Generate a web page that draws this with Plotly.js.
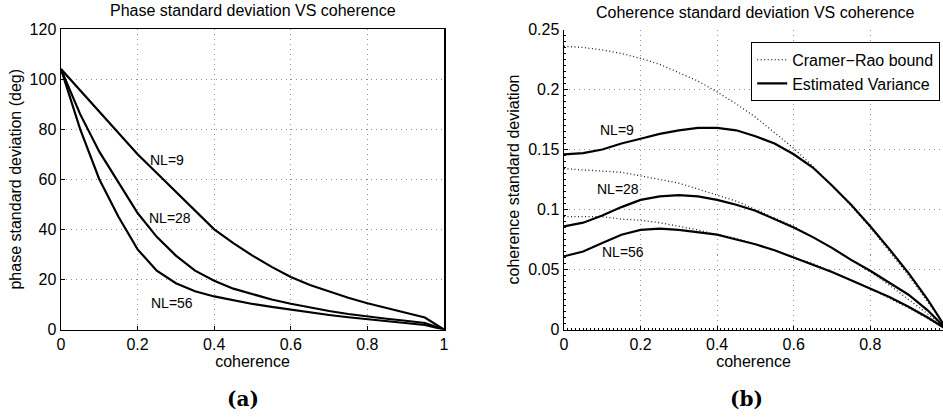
<!DOCTYPE html>
<html>
<head>
<meta charset="utf-8">
<script src="https://cdn.plot.ly/plotly-3.0.1.min.js"></script>
<style>html,body{margin:0;padding:0;background:#fff;}#chart{width:943px;height:417px;}</style>
</head>
<body>
<div id="chart"></div>
<script>
// ---- data ----
const coherence = [0,0.05,0.1,0.15,0.2,0.25,0.3,0.35,0.4,0.45,0.5,0.55,0.6,0.65,0.7,0.75,0.8,0.85,0.9,0.95,1];

// (a) phase standard deviation (deg)
const phaseNL9  = [104,95.5,87,78.5,70,62.5,55,47.5,40,34.5,29.5,25,21,17.8,15.2,12.7,10.5,8.6,6.6,4.8,0];
const phaseNL28 = [104,86,71,58.5,46.5,37,29.5,23.5,19.5,16.3,14,12,10.3,8.8,7.4,6.2,5.2,4.3,3.5,2.6,0];
const phaseNL56 = [104,80,60,45,32,23.5,18.5,15.3,13.2,11.6,10.2,9,7.9,6.9,5.8,4.9,4.1,3.3,2.6,1.8,0];

// (b) coherence standard deviation
const crNL9  = [0.236,0.235,0.233,0.230,0.226,0.221,0.214,0.207,0.198,0.188,0.177,0.164,0.151,0.136,0.120,0.103,0.085,0.065,0.045,0.023,0];
const crNL28 = [0.134,0.133,0.132,0.131,0.128,0.125,0.122,0.117,0.112,0.107,0.100,0.093,0.086,0.077,0.068,0.058,0.048,0.037,0.025,0.013,0];
const crNL56 = [0.094,0.094,0.094,0.092,0.091,0.089,0.086,0.083,0.079,0.076,0.071,0.066,0.060,0.055,0.048,0.041,0.034,0.026,0.018,0.009,0];
const estNL9  = [0.146,0.147,0.150,0.155,0.159,0.163,0.166,0.168,0.168,0.166,0.161,0.155,0.146,0.135,0.120,0.104,0.086,0.067,0.047,0.025,0];
const estNL28 = [0.086,0.089,0.095,0.102,0.108,0.111,0.112,0.111,0.108,0.104,0.099,0.092,0.085,0.077,0.068,0.058,0.049,0.039,0.029,0.016,0];
const estNL56 = [0.061,0.065,0.072,0.079,0.083,0.084,0.083,0.081,0.079,0.075,0.071,0.066,0.060,0.054,0.048,0.041,0.034,0.027,0.019,0.010,0];

const curveLabels = ['NL=9','NL=28','NL=56'];
const legendNames = ['Cramer\u2212Rao bound','Estimated Variance'];
const titleA = 'Phase standard deviation VS coherence';
const titleB = 'Coherence standard deviation VS coherence';

// ---- styling ----
const FONT = "'Liberation Sans', Arial, Helvetica, sans-serif";
const solid = {color:'#000', width:2.2};
const dotted = {color:'#222', width:1.3, dash:'1px,2.5px'};

const traces = [];
[phaseNL9, phaseNL28, phaseNL56].forEach(v => traces.push({
  x: coherence, y: v, xaxis:'x', yaxis:'y', mode:'lines', line: solid,
  showlegend:false, hoverinfo:'skip'
}));
[crNL9, crNL28, crNL56].forEach((v,i) => traces.push({
  x: coherence, y: v, xaxis:'x2', yaxis:'y2', mode:'lines', line: dotted,
  name: legendNames[0], legendgroup:'cr', showlegend: i===0, hoverinfo:'skip'
}));
[estNL9, estNL28, estNL56].forEach((v,i) => traces.push({
  x: coherence, y: v, xaxis:'x2', yaxis:'y2', mode:'lines', line: solid,
  name: legendNames[1], legendgroup:'est', showlegend: i===0, hoverinfo:'skip'
}));

const W = 943, H = 417;
const px = v => v / W, py = v => 1 - v / H;

const axisCommon = {
  showline:true, linecolor:'#000', linewidth:1.5,
  ticks:'inside', ticklen:4, tickcolor:'#000', tickwidth:1,
  showgrid:true, gridcolor:'#909090', griddash:'1px,4px', gridwidth:1,
  zeroline:false, tickfont:{family:FONT, size:16, color:'#000'},
  automargin:false
};

const layout = {
  width: W, height: H,
  margin:{l:0,r:0,t:0,b:0},
  paper_bgcolor:'#fff', plot_bgcolor:'#fff',
  font:{family:FONT, size:16, color:'#000'},
  showlegend:true,
  legend:{
    x: px(940), y: py(41.5), xanchor:'right', yanchor:'top',
    bgcolor:'#fff', bordercolor:'#000', borderwidth:1.2,
    font:{family:FONT, size:16, color:'#000'},
    tracegroupgap:0, itemwidth:30
  },
  xaxis: Object.assign({}, axisCommon, {
    domain:[px(61), px(444)], range:[0,1], mirror:true,
    tickvals:[0,0.2,0.4,0.6,0.8,1], ticktext:['0','0.2','0.4','0.6','0.8','1'],
    title:{text:'coherence', font:{family:FONT,size:16}, standoff:2},
    anchor:'y'
  }),
  yaxis: Object.assign({}, axisCommon, {
    domain:[py(329.5), py(29)], range:[0,120], mirror:true,
    tickvals:[0,20,40,60,80,100,120],
    title:{text:'phase standard deviation (deg)', font:{family:FONT,size:16}, standoff:4},
    anchor:'x'
  }),
  xaxis2: Object.assign({}, axisCommon, {
    domain:[px(564), 1], range:[0,0.99], mirror:false,
    tickvals:[0,0.2,0.4,0.6,0.8], ticktext:['0','0.2','0.4','0.6','0.8'],
    minor:{dtick:0.01, ticks:'inside', ticklen:2, tickcolor:'#000', showgrid:false},
    title:{text:'coherence', font:{family:FONT,size:16}, standoff:2},
    anchor:'y2'
  }),
  yaxis2: Object.assign({}, axisCommon, {
    domain:[py(329.5), py(29.5)], range:[0,0.25], mirror:false,
    tickvals:[0,0.05,0.1,0.15,0.2,0.25], ticktext:['0','0.05','0.1','0.15','0.2','0.25'],
    minor:{dtick:0.005, ticks:'inside', ticklen:2, tickcolor:'#000', showgrid:false},
    title:{text:'coherence standard deviation', font:{family:FONT,size:16}, standoff:4},
    anchor:'x2'
  }),
  annotations:[
    {text:titleA, xref:'paper', yref:'paper', x:px(252.5), y:py(11), xanchor:'center', yanchor:'middle', showarrow:false, font:{family:FONT,size:16}},
    {text:titleB, xref:'paper', yref:'paper', x:px(755), y:py(12), xanchor:'center', yanchor:'middle', showarrow:false, font:{family:FONT,size:16}},
    {text:'<b>(a)</b>', xref:'paper', yref:'paper', x:px(243), y:py(399), xanchor:'center', yanchor:'middle', showarrow:false, font:{family:'DejaVu Serif, serif',size:20}},
    {text:'<b>(b)</b>', xref:'paper', yref:'paper', x:px(746), y:py(399), xanchor:'center', yanchor:'middle', showarrow:false, font:{family:'DejaVu Serif, serif',size:20}},
    {text:curveLabels[0], xref:'x', yref:'y', x:0.277, y:67.6, showarrow:false, font:{family:FONT,size:14}},
    {text:curveLabels[1], xref:'x', yref:'y', x:0.285, y:44.4, showarrow:false, font:{family:FONT,size:14}},
    {text:curveLabels[2], xref:'x', yref:'y', x:0.29, y:10.4, showarrow:false, font:{family:FONT,size:14}},
    {text:curveLabels[0], xref:'x2', yref:'y2', x:0.138, y:0.1664, showarrow:false, font:{family:FONT,size:14}},
    {text:curveLabels[1], xref:'x2', yref:'y2', x:0.141, y:0.1173, showarrow:false, font:{family:FONT,size:14}},
    {text:curveLabels[2], xref:'x2', yref:'y2', x:0.154, y:0.0648, showarrow:false, font:{family:FONT,size:14}}
  ]
};

Plotly.newPlot('chart', traces, layout, {staticPlot:true, displayModeBar:false});
</script>
</body>
</html>
